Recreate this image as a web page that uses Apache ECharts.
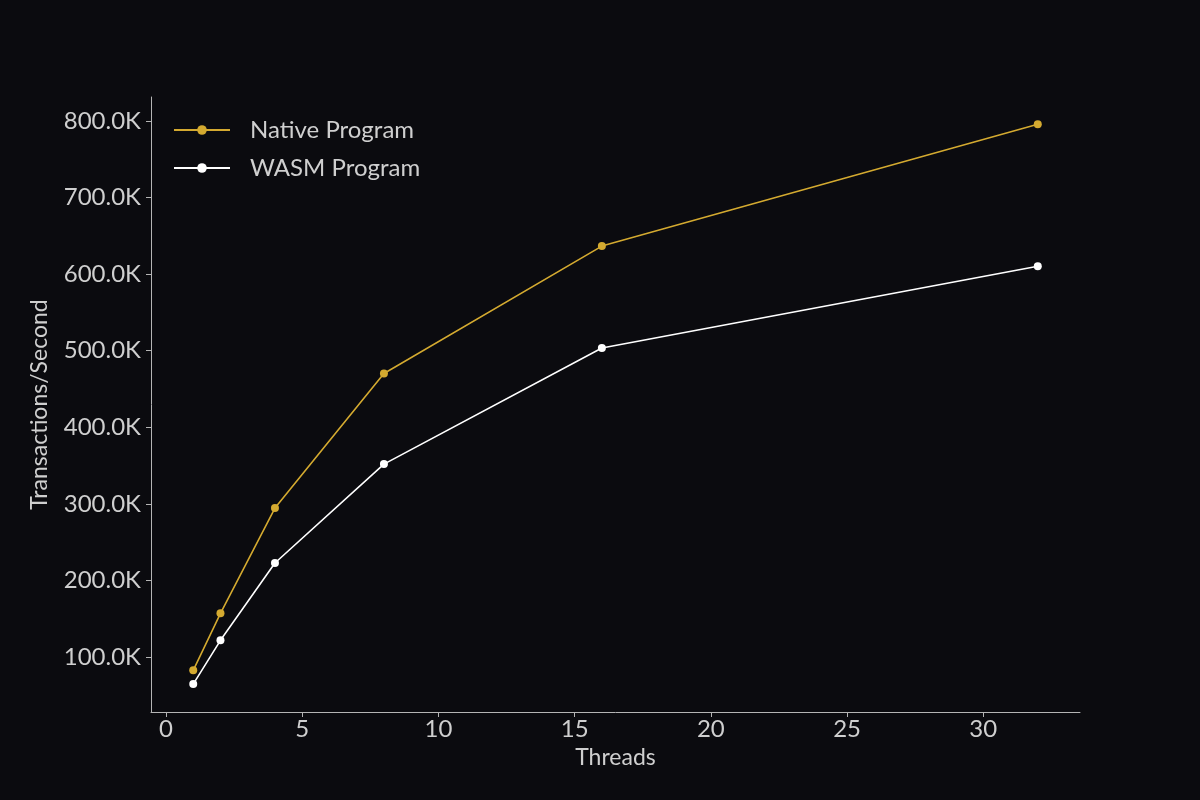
<!DOCTYPE html>
<html>
<head>
<meta charset="utf-8">
<script src="https://cdn.jsdelivr.net/npm/echarts@6/dist/echarts.min.js"></script>
<style>
html,body{margin:0;padding:0;background:#0b0b0f;}
#c{width:1200px;height:800px;}
</style>
</head>
<body>
<div id="c"></div>
<script>
const threads = [1, 2, 4, 8, 16, 32];
const nativeTps = [82600, 157000, 294500, 470300, 636600, 795700];
const wasmTps = [64700, 121800, 222800, 351900, 503500, 610300];
const xTicks = [0, 5, 10, 15, 20, 25, 30];
const yTicks = [100000, 200000, 300000, 400000, 500000, 600000, 700000, 800000];
const seriesNames = ['Native Program', 'WASM Program'];

const textColor = '#cfcfcf';
const axisColor = '#b5b5b5';
const fontFamily = 'Lato, "Noto Sans", sans-serif';

const chart = echarts.init(document.getElementById('c'));
chart.setOption({
  backgroundColor: '#0b0b0f',
  animation: false,
  grid: {left: 151, right: 120, top: 97, bottom: 88, containLabel: false},
  legend: {
    left: 173, top: 118, orient: 'vertical', padding: 0,
    itemWidth: 56, itemHeight: 12, itemGap: 14,
    textStyle: {color: textColor, fontSize: 24, fontFamily: fontFamily, padding: [0, 0, 0, 15]},
    data: seriesNames
  },
  xAxis: {
    type: 'value', min: -0.55, max: 33.55,
    name: 'Threads', nameLocation: 'middle', nameGap: 34,
    nameTextStyle: {color: textColor, fontSize: 23, fontFamily: fontFamily},
    splitLine: {show: false},
    axisLine: {show: true, onZero: false, lineStyle: {color: axisColor, width: 1}},
    axisTick: {show: true, length: 5, lineStyle: {color: axisColor}, customValues: xTicks},
    axisLabel: {color: textColor, fontSize: 24, fontFamily: fontFamily, margin: 5, customValues: xTicks}
  },
  yAxis: {
    type: 'value', min: 28200, max: 831300,
    name: 'Transactions/Second', nameLocation: 'middle', nameGap: 100,
    nameTextStyle: {color: textColor, fontSize: 23, fontFamily: fontFamily},
    splitLine: {show: false},
    axisLine: {show: true, onZero: false, lineStyle: {color: axisColor, width: 1}},
    axisTick: {show: true, length: 5, lineStyle: {color: axisColor}, customValues: yTicks},
    axisLabel: {
      color: textColor, fontSize: 24, fontFamily: fontFamily, margin: 10, customValues: yTicks,
      formatter: v => (v / 1000).toFixed(1) + 'K'
    }
  },
  series: [
    {
      name: seriesNames[0], type: 'line',
      data: threads.map((t, i) => [t, nativeTps[i]]),
      symbol: 'circle', symbolSize: 8,
      lineStyle: {color: '#d4aa30', width: 1.6},
      itemStyle: {color: '#d4aa30'}
    },
    {
      name: seriesNames[1], type: 'line',
      data: threads.map((t, i) => [t, wasmTps[i]]),
      symbol: 'circle', symbolSize: 8,
      lineStyle: {color: '#ffffff', width: 1.6},
      itemStyle: {color: '#ffffff'}
    }
  ]
});
</script>
</body>
</html>
